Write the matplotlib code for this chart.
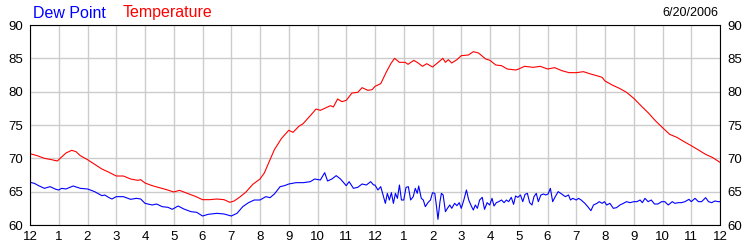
import matplotlib
matplotlib.use("Agg")
import matplotlib.pyplot as plt

# hours since midnight, 6/20/2006
temp_hours = [0, 0.25, 0.5, 0.75, 0.95, 1.1, 1.25, 1.45, 1.6, 1.75, 2.0, 2.25, 2.5, 2.75,
              3.0, 3.25, 3.5, 3.75, 3.85, 4.0, 4.25, 4.5, 4.75, 5.0, 5.2, 5.5, 5.75, 6.0,
              6.25, 6.5, 6.75, 6.95, 7.1, 7.3, 7.5, 7.75, 8.0, 8.15, 8.3, 8.5, 8.75, 9.0,
              9.15, 9.35, 9.5, 9.75, 9.95, 10.1, 10.3, 10.45, 10.55, 10.7, 10.85, 11.0,
              11.2, 11.4, 11.55, 11.75, 11.9, 12.0, 12.2, 12.4, 12.55, 12.68, 12.85, 13.05,
              13.15, 13.35, 13.5, 13.65, 13.8, 14.0, 14.2, 14.36, 14.45, 14.55, 14.67,
              14.85, 15.0, 15.25, 15.42, 15.6, 15.85, 16.0, 16.2, 16.4, 16.6, 16.9, 17.0,
              17.2, 17.5, 17.75, 18.0, 18.25, 18.5, 18.75, 19.0, 19.25, 19.5, 19.75, 19.9,
              20.0, 20.25, 20.5, 20.75, 21.0, 21.25, 21.5, 21.75, 22.0, 22.25, 22.5, 22.75,
              23.0, 23.25, 23.5, 23.75, 24.0]
temp_vals = [70.7, 70.4, 70.0, 69.8, 69.6, 70.2, 70.8, 71.2, 71.0, 70.4, 69.8, 69.1, 68.4, 67.9,
             67.35, 67.35, 66.9, 66.7, 66.8, 66.3, 65.9, 65.6, 65.3, 64.95, 65.2, 64.7, 64.3, 63.8,
             63.8, 63.9, 63.8, 63.4, 63.6, 64.2, 64.9, 66.1, 66.9, 67.8, 69.3, 71.3, 73.0, 74.2,
             73.9, 74.8, 75.2, 76.4, 77.4, 77.2, 77.6, 77.9, 77.7, 78.9, 78.5, 78.7,
             79.8, 79.9, 80.6, 80.2, 80.3, 80.8, 81.2, 83.0, 84.2, 85.0, 84.4, 84.4,
             84.1, 84.7, 84.3, 83.8, 84.2, 83.7, 84.4, 85.0, 84.4, 84.8, 84.3,
             84.8, 85.4, 85.5, 86.0, 85.8, 84.9, 84.7, 84.0, 83.9, 83.4, 83.25, 83.4,
             83.8, 83.65, 83.8, 83.4, 83.6, 83.15, 82.85, 82.85, 83.0, 82.65, 82.35, 82.15,
             81.6, 81.0, 80.5, 79.9, 79.0, 77.9, 76.85, 75.65, 74.6, 73.6, 73.15, 72.5,
             71.9, 71.25, 70.6, 70.1, 69.4]

dew_hours = [0, 0.15, 0.3, 0.5, 0.7, 0.9, 1.0, 1.1, 1.25, 1.5, 1.75, 2.0, 2.1, 2.25, 2.5, 2.6,
             2.75, 2.85, 3.0, 3.25, 3.5, 3.7, 3.85, 4.0, 4.25, 4.4, 4.6, 4.8, 4.95, 5.15, 5.35,
             5.6, 5.8, 6.0, 6.2, 6.5, 6.75, 7.0, 7.2, 7.4, 7.6, 7.8, 8.0, 8.2, 8.35, 8.5, 8.7,
             8.85, 9.0, 9.25, 9.5, 9.75, 9.9, 10.1, 10.25, 10.35, 10.5, 10.65, 10.8, 11.0,
             11.1, 11.25, 11.4, 11.55, 11.7, 11.85, 11.95,
             12.0, 12.1, 12.2, 12.28, 12.36, 12.43, 12.5, 12.57, 12.64, 12.71, 12.78, 12.85,
             12.92, 13.0, 13.08, 13.16, 13.24, 13.33, 13.4, 13.47, 13.52, 13.61, 13.68, 13.75,
             13.84, 13.93, 14.0, 14.08, 14.14, 14.19, 14.26, 14.31, 14.37, 14.45, 14.52,
             14.6, 14.67, 14.77, 14.85, 14.93, 15.0, 15.09, 15.18, 15.26, 15.35, 15.42,
             15.49, 15.56, 15.64, 15.73, 15.81, 15.9, 15.99, 16.07, 16.14, 16.22, 16.3,
             16.4, 16.49, 16.57, 16.65, 16.74, 16.82, 16.89, 16.97, 17.06, 17.14, 17.22,
             17.3, 17.38, 17.46, 17.53, 17.61, 17.68, 17.77, 17.86, 17.94, 18.02, 18.1,
             18.18, 18.27, 18.37, 18.46, 18.54, 18.62, 18.73, 18.8, 18.88, 19.0, 19.08,
             19.17, 19.3, 19.4, 19.51, 19.6, 19.72, 19.8, 19.9, 19.98, 20.06, 20.17, 20.29,
             20.4, 20.52, 20.64, 20.75, 20.87, 21.0, 21.11, 21.22, 21.3, 21.39, 21.5, 21.61,
             21.72, 21.84, 21.97, 22.08, 22.2, 22.34, 22.43, 22.55, 22.66, 22.78, 22.92,
             23.0, 23.13, 23.25, 23.36, 23.5, 23.6, 23.71, 23.82, 23.94, 24.0]
dew_vals = [66.4, 66.25, 65.9, 65.5, 65.75, 65.35, 65.25, 65.5, 65.4, 65.85, 65.5, 65.4, 65.25,
            65.0, 64.4, 64.5, 64.1, 63.9, 64.25, 64.25, 63.85, 64.0, 63.9, 63.25, 63.0, 63.15,
            62.75, 62.65, 62.35, 62.85, 62.4, 62.0, 61.9, 61.35, 61.6, 61.75, 61.65, 61.35,
            61.75, 62.75, 63.35, 63.75, 63.75, 64.25, 64.1, 64.65, 65.75, 65.9, 66.15, 66.35,
            66.35, 66.5, 66.9, 66.75, 67.85, 66.6, 66.9, 67.4, 66.9, 65.9, 66.5, 65.5, 65.65,
            66.15, 66.0, 66.5, 66.0,
            66.0, 65.25, 65.75, 64.5, 63.25, 64.75, 63.75, 64.85, 63.25, 64.75, 64.0, 66.0,
            63.75, 63.75, 65.65, 65.75, 63.75, 64.25, 65.5, 64.75, 65.85, 64.0, 63.75, 62.75,
            63.35, 63.75, 64.85, 64.75, 62.75, 60.85, 63.5, 64.75, 64.5, 62.0, 62.5,
            63.0, 62.5, 63.25, 62.9, 63.35, 62.5, 63.75, 65.25, 63.75, 62.85, 62.25,
            63.0, 62.5, 63.75, 64.15, 62.35, 63.35, 63.0, 64.0, 62.85, 63.35, 63.5,
            63.75, 63.35, 63.75, 63.5, 64.15, 63.1, 64.35, 64.15, 64.5, 63.5, 64.6,
            64.75, 63.35, 63.0, 64.25, 64.75, 63.5, 64.5, 64.65, 64.5, 64.65, 65.5,
            63.5, 64.25, 65.0, 64.75, 64.5, 64.25, 64.5, 63.75, 64.0, 63.75, 64.0,
            63.75, 63.25, 62.75, 62.15, 63.0, 63.25, 63.5, 63.25, 63.5, 63.0, 63.25, 62.5,
            62.6, 63.0, 63.25, 63.5, 63.35, 63.5, 63.5, 63.75, 63.35, 64.0, 63.5, 63.75,
            63.15, 63.15, 63.5, 63.5, 63.0, 63.5, 63.25, 63.35, 63.35, 63.5, 63.85,
            63.5, 64.0, 63.5, 63.5, 64.1, 63.5, 63.35, 63.6, 63.5, 63.5]

hour_ticks = list(range(0, 25))
hour_labels = ["12", "1", "2", "3", "4", "5", "6", "7", "8", "9", "10", "11",
               "12", "1", "2", "3", "4", "5", "6", "7", "8", "9", "10", "11", "12"]
temp_ticks = [60, 65, 70, 75, 80, 85, 90]

plt.rcParams["font.family"] = ["Liberation Sans", "DejaVu Sans"]

fig = plt.figure(figsize=(7.5, 2.5), dpi=100)
ax = fig.add_axes([0.04, 0.10, 0.92, 0.80])

ax.plot(temp_hours, temp_vals, color="#ff0000", lw=0.8)
ax.plot(dew_hours, dew_vals, color="#0000ff", lw=0.8)

ax.set_xlim(0, 24)
ax.set_ylim(60, 90)
ax.set_xticks(hour_ticks)
ax.set_xticklabels(hour_labels)
ax.set_yticks(temp_ticks)
ax.grid(True, color="#cccccc", lw=1.0)
ax.set_axisbelow(True)
ax.tick_params(axis="both", length=0, labelsize=9.5, colors="black")
ax.tick_params(axis="y", pad=5, labelright=True, right=True)
ax.tick_params(axis="x", pad=4)
for sp in ax.spines.values():
    sp.set_color("black")
    sp.set_linewidth(0.8)

fig.text(33 / 750, 1 - 13 / 250, "Dew Point", color="#0000ff", fontsize=11.5, va="center")
fig.text(123 / 750, 1 - 13 / 250, "Temperature", color="#ff0000", fontsize=11.5, va="center")
fig.text(718 / 750, 1 - 13 / 250, "6/20/2006", color="black", fontsize=9, va="center", ha="right")

fig.savefig("out.png", dpi=100)
